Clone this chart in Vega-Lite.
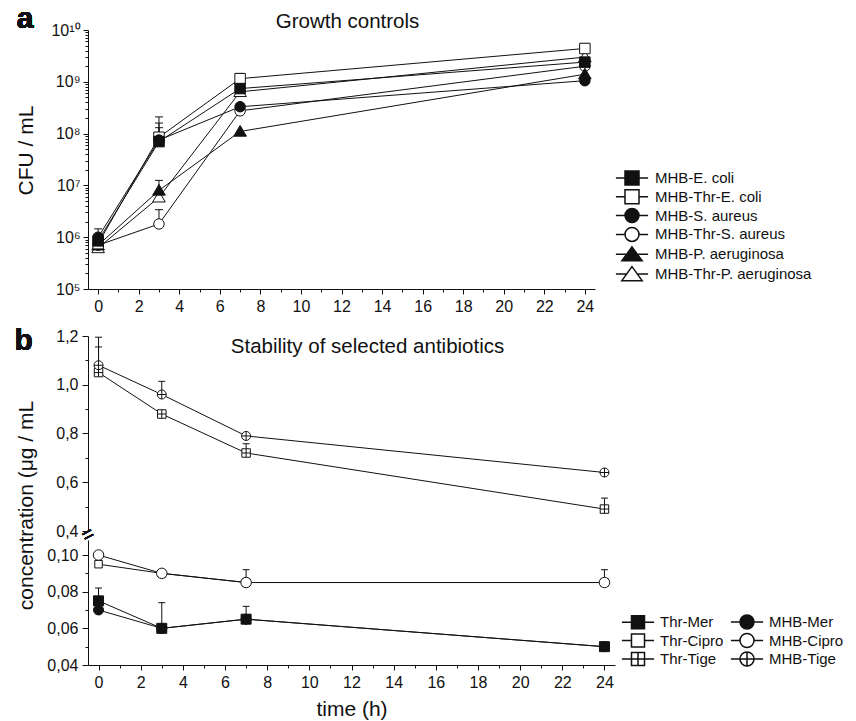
{
  "$schema": "https://vega.github.io/schema/vega-lite/v6.json",
  "background": "white",
  "padding": {"left": 14, "top": 4, "right": 5, "bottom": 5},
  "datasets": {
    "growth": [
      {"series": "MHB-Thr-P. aeruginosa", "t": 0, "v": 620000},
      {"series": "MHB-Thr-P. aeruginosa", "t": 3, "v": 5900000},
      {"series": "MHB-Thr-P. aeruginosa", "t": 7, "v": 640000000},
      {"series": "MHB-Thr-P. aeruginosa", "t": 24, "v": 3000000000},
      {"series": "MHB-Thr-S. aureus", "t": 0, "v": 700000},
      {"series": "MHB-Thr-S. aureus", "t": 3, "v": 1800000, "hi": 3400000},
      {"series": "MHB-Thr-S. aureus", "t": 7, "v": 275000000},
      {"series": "MHB-Thr-S. aureus", "t": 24, "v": 2000000000},
      {"series": "MHB-P. aeruginosa", "t": 0, "v": 700000},
      {"series": "MHB-P. aeruginosa", "t": 3, "v": 8000000, "hi": 12500000},
      {"series": "MHB-P. aeruginosa", "t": 7, "v": 110000000},
      {"series": "MHB-P. aeruginosa", "t": 24, "v": 1400000000},
      {"series": "MHB-Thr-E. coli", "t": 0, "v": 750000},
      {"series": "MHB-Thr-E. coli", "t": 3, "v": 85000000, "hi": 210000000},
      {"series": "MHB-Thr-E. coli", "t": 7, "v": 1150000000, "hi": 1450000000},
      {"series": "MHB-Thr-E. coli", "t": 24, "v": 4400000000, "hi": 5400000000},
      {"series": "MHB-S. aureus", "t": 0, "v": 1000000, "hi": 1450000},
      {"series": "MHB-S. aureus", "t": 3, "v": 75000000, "hi": 160000000},
      {"series": "MHB-S. aureus", "t": 7, "v": 330000000},
      {"series": "MHB-S. aureus", "t": 24, "v": 1050000000},
      {"series": "MHB-E. coli", "t": 0, "v": 850000},
      {"series": "MHB-E. coli", "t": 3, "v": 70000000, "hi": 130000000},
      {"series": "MHB-E. coli", "t": 7, "v": 740000000},
      {"series": "MHB-E. coli", "t": 24, "v": 2400000000}
    ],
    "stab": [
      {"series": "MHB-Mer", "t": 0, "v": 0.070},
      {"series": "MHB-Mer", "t": 3, "v": 0.060},
      {"series": "MHB-Mer", "t": 7, "v": 0.065},
      {"series": "MHB-Mer", "t": 24, "v": 0.050},
      {"series": "Thr-Mer", "t": 0, "v": 0.075, "hi": 0.082},
      {"series": "Thr-Mer", "t": 3, "v": 0.060, "hi": 0.074},
      {"series": "Thr-Mer", "t": 7, "v": 0.065, "hi": 0.072},
      {"series": "Thr-Mer", "t": 24, "v": 0.050},
      {"series": "Thr-Cipro", "t": 0, "v": 0.095},
      {"series": "Thr-Cipro", "t": 3, "v": 0.090},
      {"series": "Thr-Cipro", "t": 7, "v": 0.085},
      {"series": "Thr-Cipro", "t": 24, "v": 0.085},
      {"series": "MHB-Cipro", "t": 0, "v": 0.100},
      {"series": "MHB-Cipro", "t": 3, "v": 0.090},
      {"series": "MHB-Cipro", "t": 7, "v": 0.085, "hi": 0.092},
      {"series": "MHB-Cipro", "t": 24, "v": 0.085, "hi": 0.092},
      {"series": "Thr-Tige", "t": 0, "v": 1.05, "hi": 1.155},
      {"series": "Thr-Tige", "t": 3, "v": 0.88},
      {"series": "Thr-Tige", "t": 7, "v": 0.72, "hi": 0.758},
      {"series": "Thr-Tige", "t": 24, "v": 0.49, "hi": 0.535},
      {"series": "MHB-Tige", "t": 0, "v": 1.08, "hi": 1.195},
      {"series": "MHB-Tige", "t": 3, "v": 0.96, "hi": 1.014},
      {"series": "MHB-Tige", "t": 7, "v": 0.79},
      {"series": "MHB-Tige", "t": 24, "v": 0.64}
    ]
  },
  "config": {
    "view": {"stroke": null},
    "font": "Liberation Sans",
    "axis": {"domainColor": "#111", "tickColor": "#111", "labelColor": "#111", "titleColor": "#111", "grid": false, "labelFontSize": 16, "titleFontSize": 21, "titleFontWeight": "normal", "labelFont": "Liberation Sans", "titleFont": "Liberation Sans", "domainWidth": 1, "tickWidth": 1, "labelOverlap": false, "labelFlush": false},
    "title": {"fontWeight": "normal", "fontSize": 20.5, "color": "#111", "font": "Liberation Sans"},
    "legend": {"labelFont": "Liberation Sans", "labelFontSize": 15, "labelColor": "#111", "padding": 0}
  },
  "resolve": {"scale": {"shape": "independent", "fill": "independent", "size": "independent"}, "legend": {"shape": "independent", "fill": "independent", "size": "independent"}},
  "vconcat": [
    {
      "width": 507, "height": 259,
      "data": {"name": "growth"},
      "title": {"text": "Growth controls", "anchor": "middle", "frame": "group", "dx": 6, "dy": 28, "offset": 0},
      "resolve": {"axis": {"x": "independent", "y": "independent"}},
      "layer": [
        {
          "mark": {"type": "line", "color": "#111", "strokeWidth": 1},
          "encoding": {
            "x": {"field": "t", "type": "quantitative", "scale": {"domain": [-0.5, 24.5], "nice": false, "zero": false},
                  "axis": {"orient": "bottom", "values": [0,2,4,6,8,10,12,14,16,18,20,22,24], "tickSize": 5, "labelPadding": 4, "title": null}},
            "y": {"field": "v", "type": "quantitative", "scale": {"type": "log", "domain": [100000, 10000000000], "nice": false},
                  "axis": {"orient": "left", "values": [100000,1000000,10000000,100000000,1000000000,10000000000], "tickSize": 5, "labelPadding": 3, "title": "CFU / mL", "titlePadding": 14, "titleY": 120,
                           "labelExpr": "'10' + (round(log(datum.value)/LN10) == 10 ? '¹⁰' : ['⁰','¹','²','³','⁴','⁵','⁶','⁷','⁸','⁹'][round(log(datum.value)/LN10)])"}},
            "detail": {"field": "series"}
          }
        },
        {
          "transform": [{"filter": "isValid(datum.hi)"}],
          "mark": {"type": "rule", "color": "#111", "strokeWidth": 1},
          "encoding": {
            "x": {"field": "t", "type": "quantitative", "axis": null},
            "y": {"field": "v", "type": "quantitative", "axis": null},
            "y2": {"field": "hi"}
          }
        },
        {
          "transform": [{"filter": "isValid(datum.hi)"}],
          "mark": {"type": "tick", "orient": "horizontal", "color": "#111", "thickness": 1, "size": 8, "opacity": 1},
          "encoding": {
            "x": {"field": "t", "type": "quantitative", "axis": null},
            "y": {"field": "hi", "type": "quantitative", "axis": null}
          }
        },
        {
          "mark": {"type": "point", "stroke": "#111", "strokeWidth": 1, "opacity": 1, "size": 110},
          "encoding": {
            "x": {"field": "t", "type": "quantitative",
                  "axis": {"orient": "bottom", "values": [1,3,5,7,9,11,13,15,17,19,21,23], "tickSize": 3, "labels": false, "domain": false, "title": null}},
            "y": {"field": "v", "type": "quantitative",
                  "axis": {"orient": "left", "values": [200000,300000,400000,500000,600000,700000,800000,900000,2000000,3000000,4000000,5000000,6000000,7000000,8000000,9000000,20000000,30000000,40000000,50000000,60000000,70000000,80000000,90000000,200000000,300000000,400000000,500000000,600000000,700000000,800000000,900000000,2000000000,3000000000,4000000000,5000000000,6000000000,7000000000,8000000000,9000000000], "tickSize": 3, "labels": false, "domain": false, "title": null}},
            "shape": {"field": "series", "type": "nominal",
                      "scale": {"domain": ["MHB-Thr-P. aeruginosa", "MHB-P. aeruginosa", "MHB-Thr-S. aureus", "MHB-S. aureus", "MHB-Thr-E. coli", "MHB-E. coli"],
                                "range": ["M0,-1.15L1.2,0.9L-1.2,0.9Z", "M0,-1.15L1.2,0.9L-1.2,0.9Z", "M1,0A1,1,0,1,1,-1,0A1,1,0,1,1,1,0Z", "M1,0A1,1,0,1,1,-1,0A1,1,0,1,1,1,0Z", "M-1,-1H1V1H-1Z", "M-1,-1H1V1H-1Z"]},
                      "legend": null},
            "fill": {"field": "series", "type": "nominal",
                     "scale": {"domain": ["MHB-E. coli", "MHB-Thr-E. coli", "MHB-S. aureus", "MHB-Thr-S. aureus", "MHB-P. aeruginosa", "MHB-Thr-P. aeruginosa"],
                               "range": ["#111", "white", "#111", "white", "#111", "white"]},
                     "legend": {"title": null, "orient": "none", "legendX": 536, "legendY": 140, "symbolSize": 196, "labelOffset": 15, "rowPadding": -1.2,
                                "symbolType": {"expr": "datum.index < 2 ? 'M-2.3,0H-1M1,0H2.3M-1,-1H1V1H-1Z' : datum.index < 4 ? 'M-2.3,0H-1M1,0H2.3M1,0A1,1,0,1,1,-1,0A1,1,0,1,1,1,0Z' : 'M-2.3,0H-0.72M0.72,0H2.3M0,-1.05L1.45,0.95L-1.45,0.95Z'"},
                                "encode": {"symbols": {
                                  "stroke": {"value": "#111"}, "strokeWidth": {"value": 1}, "opacity": {"value": 1}}}}}
          }
        },
        {
          "mark": {"type": "text", "fontSize": 30, "fontWeight": "bold", "color": "#111", "baseline": "middle", "align": "center"},
          "encoding": {
            "x": {"datum": -3.6, "type": "quantitative", "axis": null},
            "y": {"datum": 16000000000, "type": "quantitative", "axis": null},
            "text": {"value": "a"}
          }
        }
      ]
    },
    {
      "width": 527, "height": 29,
      "data": {"values": []},
      "mark": {"type": "point"},
      "encoding": {}
    },
    {
      "width": 527, "height": 195,
      "data": {"name": "stab"},
      "transform": [{"filter": "indexof(datum.series, 'Tige') >= 0"}],
      "title": {"text": "Stability of selected antibiotics", "anchor": "middle", "frame": "group", "dx": 16, "dy": 32, "offset": 0},
      "resolve": {"axis": {"x": "independent", "y": "independent"}},
      "layer": [
        {
          "mark": {"type": "line", "color": "#111", "strokeWidth": 1},
          "encoding": {
            "x": {"field": "t", "type": "quantitative", "scale": {"domain": [-0.5, 24.5], "nice": false, "zero": false}, "axis": null},
            "y": {"field": "v", "type": "quantitative", "scale": {"domain": [0.4, 1.2], "nice": false, "zero": false},
                  "axis": {"orient": "left", "values": [0.4, 0.6, 0.8, 1.0, 1.2], "tickSize": 6, "labelPadding": 4, "title": "concentration (μg / mL", "titlePadding": 19, "titleY": 169,
                           "labelExpr": "replace(format(datum.value, '.1f'), '.', ',')"}},
            "detail": {"field": "series"}
          }
        },
        {
          "transform": [{"filter": "isValid(datum.hi)"}],
          "mark": {"type": "rule", "color": "#111", "strokeWidth": 1},
          "encoding": {
            "x": {"field": "t", "type": "quantitative", "axis": null},
            "y": {"field": "v", "type": "quantitative", "axis": null},
            "y2": {"field": "hi"}
          }
        },
        {
          "transform": [{"filter": "isValid(datum.hi)"}],
          "mark": {"type": "tick", "orient": "horizontal", "color": "#111", "thickness": 1, "size": 7, "opacity": 1},
          "encoding": {
            "x": {"field": "t", "type": "quantitative", "axis": null},
            "y": {"field": "hi", "type": "quantitative", "axis": null}
          }
        },
        {
          "mark": {"type": "point", "stroke": "#111", "strokeWidth": 1, "opacity": 1},
          "encoding": {
            "x": {"field": "t", "type": "quantitative", "axis": null},
            "y": {"field": "v", "type": "quantitative",
                  "axis": {"orient": "left", "values": [0.5, 0.7, 0.9, 1.1], "tickSize": 3, "labels": false, "domain": false, "title": null}},
            "shape": {"field": "series", "type": "nominal",
                      "scale": {"domain": ["Thr-Tige", "MHB-Tige"],
                                "range": ["M-1,-1H1V1H-1ZM0,-1V1M-1,0H1", "M1,0A1,1,0,1,1,-1,0A1,1,0,1,1,1,0ZM0,-1V1M-1,0H1"]},
                      "legend": null},
            "fill": {"value": "white"},
            "size": {"field": "series", "type": "nominal",
                     "scale": {"domain": ["Thr-Tige", "MHB-Tige"], "range": [72, 81]},
                     "legend": null}
          }
        },
        {
          "mark": {"type": "text", "fontSize": 30, "fontWeight": "bold", "color": "#111", "baseline": "middle", "align": "center"},
          "encoding": {
            "x": {"datum": -3.55, "type": "quantitative", "axis": null},
            "y": {"datum": 1.18, "type": "quantitative", "axis": null},
            "text": {"value": "b"}
          }
        },
        {
          "mark": {"type": "text", "fontSize": 20, "color": "#111", "baseline": "middle", "align": "center", "angle": -28},
          "encoding": {
            "x": {"datum": -0.5, "type": "quantitative", "axis": null},
            "y": {"datum": 0.384, "type": "quantitative", "axis": null},
            "text": {"value": "="}
          }
        }
      ]
    },
    {
      "width": 527, "height": 125,
      "data": {"name": "stab"},
      "transform": [{"filter": "indexof(datum.series, 'Tige') < 0"}],
      "resolve": {"axis": {"x": "independent", "y": "independent"}},
      "layer": [
        {
          "mark": {"type": "line", "color": "#111", "strokeWidth": 1},
          "encoding": {
            "x": {"field": "t", "type": "quantitative", "scale": {"domain": [-0.5, 24.5], "nice": false, "zero": false},
                  "axis": {"orient": "bottom", "values": [0,2,4,6,8,10,12,14,16,18,20,22,24], "tickSize": 5, "labelPadding": 4, "title": "time (h)", "titlePadding": 8}},
            "y": {"field": "v", "type": "quantitative", "scale": {"domain": [0.04, 0.1082], "nice": false, "zero": false},
                  "axis": {"orient": "left", "values": [0.04, 0.06, 0.08, 0.10], "tickSize": 6, "labelPadding": 4, "title": null,
                           "labelExpr": "replace(format(datum.value, '.2f'), '.', ',')"}},
            "detail": {"field": "series"}
          }
        },
        {
          "transform": [{"filter": "isValid(datum.hi)"}],
          "mark": {"type": "rule", "color": "#111", "strokeWidth": 1},
          "encoding": {
            "x": {"field": "t", "type": "quantitative", "axis": null},
            "y": {"field": "v", "type": "quantitative", "axis": null},
            "y2": {"field": "hi"}
          }
        },
        {
          "transform": [{"filter": "isValid(datum.hi)"}],
          "mark": {"type": "tick", "orient": "horizontal", "color": "#111", "thickness": 1, "size": 7, "opacity": 1},
          "encoding": {
            "x": {"field": "t", "type": "quantitative", "axis": null},
            "y": {"field": "hi", "type": "quantitative", "axis": null}
          }
        },
        {
          "mark": {"type": "point", "stroke": "#111", "strokeWidth": 1, "opacity": 1, "size": 100},
          "encoding": {
            "x": {"field": "t", "type": "quantitative",
                  "axis": {"orient": "bottom", "values": [1,3,5,7,9,11,13,15,17,19,21,23], "tickSize": 3, "labels": false, "domain": false, "title": null}},
            "y": {"field": "v", "type": "quantitative",
                  "axis": {"orient": "left", "values": [0.05, 0.07, 0.09], "tickSize": 3, "labels": false, "domain": false, "title": null}},
            "shape": {"field": "series", "type": "nominal",
                      "scale": {"domain": ["MHB-Tige", "MHB-Cipro", "MHB-Mer", "Thr-Tige", "Thr-Cipro", "Thr-Mer"],
                                "range": ["M1,0A1,1,0,1,1,-1,0A1,1,0,1,1,1,0ZM0,-1V1M-1,0H1", "M1.05,0A1.05,1.05,0,1,1,-1.05,0A1.05,1.05,0,1,1,1.05,0Z", "M1,0A1,1,0,1,1,-1,0A1,1,0,1,1,1,0Z", "M-1,-1H1V1H-1ZM0,-1V1M-1,0H1", "M-0.75,-0.75H0.75V0.75H-0.75Z", "M-1,-1H1V1H-1Z"]},
                      "legend": null},
            "fill": {"field": "series", "type": "nominal",
                     "scale": {"domain": ["Thr-Mer", "Thr-Cipro", "Thr-Tige", "MHB-Mer", "MHB-Cipro", "MHB-Tige"],
                               "range": ["#111", "white", "white", "#111", "white", "white"]},
                     "legend": {"title": null, "orient": "none", "legendX": 542, "legendY": 74, "columns": 2, "columnPadding": 3, "symbolSize": 196, "labelOffset": 14, "rowPadding": -1.5,
                                "symbolType": {"expr": "['M-2.3,0H-0.93M0.93,0H2.3M-0.93,-0.93H0.93V0.93H-0.93Z', 'M-2.3,0H-0.93M0.93,0H2.3M-0.93,-0.93H0.93V0.93H-0.93Z', 'M-2.3,0H2.3M-0.93,-0.93H0.93V0.93H-0.93ZM0,-0.93V0.93', 'M-2.3,0H-1M1,0H2.3M1,0A1,1,0,1,1,-1,0A1,1,0,1,1,1,0Z', 'M-2.3,0H-1M1,0H2.3M1,0A1,1,0,1,1,-1,0A1,1,0,1,1,1,0Z', 'M-2.3,0H2.3M1,0A1,1,0,1,1,-1,0A1,1,0,1,1,1,0ZM0,-1V1'][datum.index]"},
                                "encode": {"symbols": {
                                  "stroke": {"value": "#111"}, "strokeWidth": {"value": 1}, "opacity": {"value": 1}}}}}
          }
        }
      ]
    }
  ],
  "spacing": 9,
  "bounds": "flush"
}
